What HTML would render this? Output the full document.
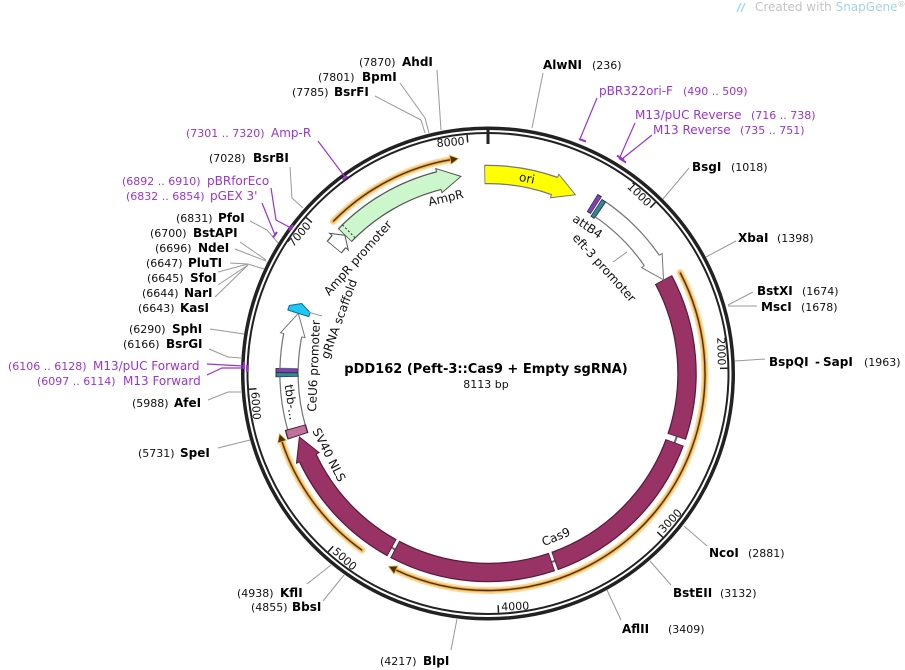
<!DOCTYPE html>
<html><head><meta charset="utf-8">
<style>
html,body{margin:0;padding:0;background:#fff;}
svg{display:block;}
text{font-family:"DejaVu Sans","Liberation Sans",sans-serif;}
.n{font-size:11px;fill:#111;}
.b{font-size:12px;font-weight:bold;fill:#000;}
.p{font-size:12px;fill:#9a34d0;}
.pn{font-size:11px;fill:#9a34d0;}
.t{font-size:11px;fill:#111;}
.f{font-size:12px;fill:#111;}
.ll{stroke:#999;stroke-width:1;fill:none;}
.pl{stroke:#9a34d0;stroke-width:1.2;fill:none;}
.pm{stroke:#9a34d0;stroke-width:2;fill:none;}
</style></head><body>
<svg width="905" height="670" viewBox="0 0 905 670" xmlns="http://www.w3.org/2000/svg">
<defs>
<path id="hd" d="M464.45 166.84 L464.06 163.36 L488 174.5 L466.89 188.2 L466.49 184.72"/>
<path id="hs" d="M478.93 165.7 L478.77 162.2 L488 174.5 L479.86 187.18 L479.71 183.68"/>
<path id="ho" d="M479.5 152.16 L488 156.5 L479.84 161.16 Z"/>
</defs>
<rect width="905" height="670" fill="#fff"/>

<!-- header -->
<g stroke="#a8d8ea" stroke-width="1.5" fill="none">
<line x1="737" y1="12" x2="741" y2="3"/><line x1="741" y1="12" x2="745" y2="3"/>
</g>
<text x="755" y="11" style="font-size:12px;fill:#c4c4c4">Created with <tspan fill="#a6d3e3">SnapGene</tspan><tspan style="font-size:8px" dy="-4">®</tspan></text>

<!-- backbone -->
<circle cx="488" cy="373.5" r="245.25" fill="none" stroke="#222" stroke-width="3.5"/>
<circle cx="488" cy="373.5" r="240.5" fill="none" stroke="#222" stroke-width="2"/>

<!-- ticks -->
<g stroke="#222" stroke-width="1.5">
<line x1="488" y1="134" x2="488" y2="141.5" transform="rotate(44.373 488 373.5)"/>
<line x1="488" y1="134" x2="488" y2="141.5" transform="rotate(88.746 488 373.5)"/>
<line x1="488" y1="134" x2="488" y2="141.5" transform="rotate(133.119 488 373.5)"/>
<line x1="488" y1="134" x2="488" y2="141.5" transform="rotate(177.492 488 373.5)"/>
<line x1="488" y1="134" x2="488" y2="141.5" transform="rotate(221.865 488 373.5)"/>
<line x1="488" y1="134" x2="488" y2="141.5" transform="rotate(266.238 488 373.5)"/>
<line x1="488" y1="134" x2="488" y2="141.5" transform="rotate(310.611 488 373.5)"/>
<line x1="488" y1="134" x2="488" y2="141.5" transform="rotate(354.984 488 373.5)"/>
</g>
<line x1="488" y1="126.5" x2="488" y2="144" stroke="#222" stroke-width="3"/>

<text class="t" x="485" y="143.5" text-anchor="end" transform="rotate(44.373 488 373.5)">1000</text>
<text class="t" x="485" y="143.5" text-anchor="end" transform="rotate(88.746 488 373.5)">2000</text>
<text class="t" x="485" y="143.5" text-anchor="end" transform="rotate(310.611 488 373.5)">7000</text>
<text class="t" x="485" y="143.5" text-anchor="end" transform="rotate(354.984 488 373.5)">8000</text>
<text class="t" x="491" y="611" transform="rotate(-46.881 488 373.5)">3000</text>
<text class="t" x="491" y="611" transform="rotate(-2.508 488 373.5)">4000</text>
<text class="t" x="491" y="611" transform="rotate(41.865 488 373.5)">5000</text>
<text class="t" x="491" y="611" transform="rotate(86.238 488 373.5)">6000</text>

<!-- ORF glows -->
<g fill="none" stroke-linecap="round">
<circle cx="488" cy="373.5" r="217" pathLength="360" stroke="#fbd89a" stroke-width="7" stroke-dasharray="35.8 720" transform="rotate(224.5 488 373.5)"/>
<circle cx="488" cy="373.5" r="217" pathLength="360" stroke="#fbd89a" stroke-width="7" stroke-dasharray="143 720" transform="rotate(-27.7 488 373.5)"/>
<circle cx="488" cy="373.5" r="217" pathLength="360" stroke="#fbd89a" stroke-width="7" stroke-dasharray="36.4 720" transform="rotate(125.5 488 373.5)"/>
<circle cx="488" cy="373.5" r="217" pathLength="360" stroke="#f0b04a" stroke-width="3.5" stroke-dasharray="35.8 720" transform="rotate(224.5 488 373.5)"/>
<circle cx="488" cy="373.5" r="217" pathLength="360" stroke="#f0b04a" stroke-width="3.5" stroke-dasharray="143 720" transform="rotate(-27.7 488 373.5)"/>
<circle cx="488" cy="373.5" r="217" pathLength="360" stroke="#f0b04a" stroke-width="3.5" stroke-dasharray="36.4 720" transform="rotate(125.5 488 373.5)"/>
</g>
<g fill="none">
<circle cx="488" cy="373.5" r="217" pathLength="360" stroke="#4a3208" stroke-width="1.4" stroke-dasharray="35.8 720" transform="rotate(224.5 488 373.5)"/>
<circle cx="488" cy="373.5" r="217" pathLength="360" stroke="#4a3208" stroke-width="1.4" stroke-dasharray="143 720" transform="rotate(-27.7 488 373.5)"/>
<circle cx="488" cy="373.5" r="217" pathLength="360" stroke="#4a3208" stroke-width="1.4" stroke-dasharray="36.4 720" transform="rotate(125.5 488 373.5)"/>
</g>
<use href="#ho" fill="#4a3208" stroke="#f0b04a" stroke-width="0.8" transform="rotate(352.2 488 373.5)"/>
<use href="#ho" fill="#4a3208" stroke="#f0b04a" stroke-width="0.8" transform="rotate(207.3 488 373.5)"/>
<use href="#ho" fill="#4a3208" stroke="#f0b04a" stroke-width="0.8" transform="rotate(253.9 488 373.5)"/>

<!-- gap connectors -->
<g fill="none" stroke="#666" stroke-width="2">
<circle cx="488" cy="373.5" r="199" pathLength="360" stroke-dasharray="2.2 720" transform="rotate(18.3 488 373.5)"/>
<circle cx="488" cy="373.5" r="199" pathLength="360" stroke-dasharray="1.3 720" transform="rotate(70.2 488 373.5)"/>
<circle cx="488" cy="373.5" r="199" pathLength="360" stroke-dasharray="1.4 720" transform="rotate(117.7 488 373.5)"/>
</g>

<!-- features: outlines then fills -->
<g fill="none">
<!-- ori -->
<circle cx="488" cy="373.5" r="199" pathLength="360" stroke="#777" stroke-width="19.5" stroke-dasharray="20.7 720" transform="rotate(268.95 488 373.5)"/>
<circle cx="488" cy="373.5" r="199" pathLength="360" stroke="#ffff00" stroke-width="17" stroke-dasharray="20.45 720" transform="rotate(269.2 488 373.5)"/>
<!-- AmpR -->
<circle cx="488" cy="373.5" r="199" pathLength="360" stroke="#555" stroke-width="19.5" stroke-dasharray="31.85 720" transform="rotate(223.95 488 373.5)"/>
<circle cx="488" cy="373.5" r="199" pathLength="360" stroke="#ccf7cc" stroke-width="17" stroke-dasharray="31.6 720" transform="rotate(224.2 488 373.5)"/>
<!-- AmpR promoter -->
<circle cx="488" cy="373.5" r="199" pathLength="360" stroke="#555" stroke-width="19.5" stroke-dasharray="2.4 720" transform="rotate(219.35 488 373.5)"/>
<circle cx="488" cy="373.5" r="199" pathLength="360" stroke="#fff" stroke-width="17" stroke-dasharray="2.05 720" transform="rotate(219.6 488 373.5)"/>
<!-- eft-3 promoter -->
<circle cx="488" cy="373.5" r="199" pathLength="360" stroke="#777" stroke-width="19.5" stroke-dasharray="21.2 720" transform="rotate(-55.65 488 373.5)"/>
<circle cx="488" cy="373.5" r="199" pathLength="360" stroke="#fff" stroke-width="17" stroke-dasharray="21 720" transform="rotate(-55.4 488 373.5)"/>
<!-- attB4 bars -->
<circle cx="488" cy="373.5" r="200" pathLength="360" stroke="#333" stroke-width="21" stroke-dasharray="1.4 720" transform="rotate(-58.6 488 373.5)"/>
<circle cx="488" cy="373.5" r="200" pathLength="360" stroke="#7f3fbf" stroke-width="19" stroke-dasharray="1.0 720" transform="rotate(-58.4 488 373.5)"/>
<circle cx="488" cy="373.5" r="198" pathLength="360" stroke="#333" stroke-width="21" stroke-dasharray="1.4 720" transform="rotate(-56.9 488 373.5)"/>
<circle cx="488" cy="373.5" r="198" pathLength="360" stroke="#2f8a96" stroke-width="19" stroke-dasharray="1.0 720" transform="rotate(-56.7 488 373.5)"/>
<!-- Cas9 segments -->
<circle cx="488" cy="373.5" r="199" pathLength="360" stroke="#5a1a3a" stroke-width="19.5" stroke-dasharray="46.7 720" transform="rotate(-28.15 488 373.5)"/>
<circle cx="488" cy="373.5" r="199" pathLength="360" stroke="#993366" stroke-width="17" stroke-dasharray="46.2 720" transform="rotate(-27.9 488 373.5)"/>
<circle cx="488" cy="373.5" r="199" pathLength="360" stroke="#5a1a3a" stroke-width="19.5" stroke-dasharray="50.2 720" transform="rotate(20.25 488 373.5)"/>
<circle cx="488" cy="373.5" r="199" pathLength="360" stroke="#993366" stroke-width="17" stroke-dasharray="49.7 720" transform="rotate(20.5 488 373.5)"/>
<circle cx="488" cy="373.5" r="199" pathLength="360" stroke="#5a1a3a" stroke-width="19.5" stroke-dasharray="46.7 720" transform="rotate(71.25 488 373.5)"/>
<circle cx="488" cy="373.5" r="199" pathLength="360" stroke="#993366" stroke-width="17" stroke-dasharray="46.2 720" transform="rotate(71.5 488 373.5)"/>
<circle cx="488" cy="373.5" r="199" pathLength="360" stroke="#5a1a3a" stroke-width="19.5" stroke-dasharray="36.2 720" transform="rotate(118.85 488 373.5)"/>
<circle cx="488" cy="373.5" r="199" pathLength="360" stroke="#993366" stroke-width="17" stroke-dasharray="35.95 720" transform="rotate(119.1 488 373.5)"/>
<!-- tbb box -->
<circle cx="488" cy="373.5" r="199" pathLength="360" stroke="#777" stroke-width="19.5" stroke-dasharray="15.4 720" transform="rotate(164.0 488 373.5)"/>
<circle cx="488" cy="373.5" r="199" pathLength="360" stroke="#fff" stroke-width="17" stroke-dasharray="15 720" transform="rotate(164.2 488 373.5)"/>
<!-- SV40 NLS pink -->
<circle cx="488" cy="373.5" r="200" pathLength="360" stroke="#3a2030" stroke-width="22" stroke-dasharray="2.7 720" transform="rotate(161.75 488 373.5)"/>
<circle cx="488" cy="373.5" r="200" pathLength="360" stroke="#c0709a" stroke-width="19.5" stroke-dasharray="2.2 720" transform="rotate(162 488 373.5)"/>
<!-- teal/purple bars left -->
<circle cx="488" cy="373.5" r="201" pathLength="360" stroke="#333" stroke-width="23" stroke-dasharray="1.3 720" transform="rotate(179.0 488 373.5)"/>
<circle cx="488" cy="373.5" r="201" pathLength="360" stroke="#2f8a96" stroke-width="21" stroke-dasharray="0.9 720" transform="rotate(179.2 488 373.5)"/>
<circle cx="488" cy="373.5" r="201" pathLength="360" stroke="#333" stroke-width="23" stroke-dasharray="1.3 720" transform="rotate(180.2 488 373.5)"/>
<circle cx="488" cy="373.5" r="201" pathLength="360" stroke="#7f3fbf" stroke-width="21" stroke-dasharray="0.9 720" transform="rotate(180.4 488 373.5)"/>
<!-- CeU6 promoter -->
<circle cx="488" cy="373.5" r="199" pathLength="360" stroke="#777" stroke-width="19.5" stroke-dasharray="9.9 720" transform="rotate(181.35 488 373.5)"/>
<circle cx="488" cy="373.5" r="199" pathLength="360" stroke="#fff" stroke-width="17" stroke-dasharray="9.65 720" transform="rotate(181.6 488 373.5)"/>
</g>

<!-- heads -->
<use href="#hd" fill="#ffff00" stroke="#777" stroke-width="1" transform="rotate(26.05 488 373.5)"/>
<use href="#hd" fill="#ccf7cc" stroke="#555" stroke-width="1" transform="rotate(352.2 488 373.5)"/>
<use href="#hs" fill="#fff" stroke="#555" stroke-width="1" transform="rotate(314.0 488 373.5)"/>
<use href="#hd" fill="#fff" stroke="#777" stroke-width="1" transform="rotate(61.9 488 373.5)"/>
<use href="#hd" fill="#993366" stroke="#5a1a3a" stroke-width="1" transform="rotate(251.4 488 373.5)"/>
<use href="#hd" fill="#fff" stroke="#777" stroke-width="1" transform="rotate(287.6 488 373.5)"/>
<!-- gRNA scaffold -->
<path d="M488 174.5 L481.77 163.59 L477.01 163.79 L478.16 185.76 L482.42 185.58 Z" fill="#1ec8f5" stroke="#0a6f9a" stroke-width="1" transform="rotate(290.6 488 373.5)"/>
<!-- AmpR dotted line -->
<line x1="488" y1="183.5" x2="488" y2="165.5" stroke="#333" stroke-width="1" stroke-dasharray="2 2" transform="rotate(315.6 488 373.5)"/>

<!-- inner labels -->
<text class="f" x="488" y="178.5" text-anchor="middle" transform="rotate(11.3 488 373.5)">ori</text>
<text class="f" x="488" y="197" text-anchor="middle" transform="rotate(-13.5 488 373.5)">AmpR</text>
<text class="f" x="488" y="203.5" text-anchor="middle" transform="rotate(-48.4 488 373.5)">AmpR promoter</text>
<text class="f" x="488" y="200" text-anchor="middle" transform="rotate(34.1 488 373.5)">attB4</text>
<text class="f" x="488" y="220.5" text-anchor="middle" transform="rotate(47.7 488 373.5)">eft-3 promoter</text>
<text class="f" x="488" y="554.5" text-anchor="middle" transform="rotate(-22.6 488 373.5)">Cas9</text>
<text class="f" x="488" y="556.2" text-anchor="middle" transform="rotate(62.9 488 373.5)">SV40 NLS</text>
<text class="f" x="488" y="218.9" text-anchor="middle" transform="rotate(-69.9 488 373.5)">gRNA scaffold</text>
<text class="f" x="488" y="203.3" text-anchor="middle" transform="rotate(-87.5 488 373.5)">CeU6 promoter</text>
<text class="f" x="488" y="576.5" text-anchor="middle" transform="rotate(81.7 488 373.5)">tbb-...</text>
<line x1="613" y1="262" x2="627" y2="252" class="ll"/>
<line x1="308" y1="312" x2="322" y2="316" class="ll"/>

<!-- title -->
<text x="486" y="373" text-anchor="middle" style="font-size:13px;font-weight:bold;fill:#000">pDD162 (Peft-3::Cas9 + Empty sgRNA)</text>
<text x="486" y="388" text-anchor="middle" style="font-size:11px;fill:#111">8113 bp</text>

<!-- enzyme leader lines -->
<g class="ll">
<path d="M532 128 L543 73"/>
<path d="M663 199 L689 168"/>
<path d="M706 257 L736 241"/>
<path d="M728 305 L753 292"/>
<path d="M728 306 L757 306"/>
<path d="M735 361 L765 359"/>
<path d="M684 526 L707 546"/>
<path d="M650 561 L671 585"/>
<path d="M607 590 L621 620"/>
<path d="M457 619 L451 650"/>
<path d="M331 565 L307 584"/>
<path d="M344 575 L323 601"/>
<path d="M250 440 L218 448"/>
<path d="M241 392 L228 392 L208 400"/>
<path d="M241 358 L228 357 L209 349"/>
<path d="M244 334 L210 329"/>
<path d="M264 269 L248 264 L230 263"/>
<path d="M248 264 L218 272"/>
<path d="M248 265 L218 285"/>
<path d="M248 265 L215 297"/>
<path d="M266 261 L235 249"/>
<path d="M266 260 L240 242"/>
<path d="M278 243 L267 230 L250 221"/>
<path d="M303 208 L292 198 L290 167"/>
<path d="M425 133 L421 120 L375 96"/>
<path d="M429 133 L425 118 L400 83"/>
<path d="M441 130 L437 70"/>
</g>

<!-- primer leaders and marks -->
<g class="pl">
<path d="M318 141 L345 177"/>
<path d="M597 98 L580 139"/>
<path d="M635 123 L620 157"/>
<path d="M652 135 L622 159"/>
<path d="M271 188 L276 220 L291 228"/>
<path d="M262 203 L275 235"/>
<path d="M207 364 L243 366"/>
<path d="M207 375 L222 368 L245 368"/>
</g>
<g class="pm">
<path d="M342.6 179.8 L347.4 176.2"/>
<path d="M579 139 L586 141.5"/>
<path d="M617 155.5 L624 160"/>
<path d="M619 158 L626 162.5"/>
<path d="M289 230.5 L293 225"/>
<path d="M273 237.5 L277 232"/>
<path d="M244 362 L244 369"/>
<path d="M247 365 L247 372"/>
</g>

<!-- right labels -->
<text class="b" x="543" y="69">AlwNI</text><text class="n" x="592" y="69">(236)</text>
<text class="p" x="599" y="95">pBR322ori-F</text><text class="pn" x="683" y="95">(490 .. 509)</text>
<text class="p" x="635" y="119">M13/pUC Reverse</text><text class="pn" x="751" y="119">(716 .. 738)</text>
<text class="p" x="653" y="134">M13 Reverse</text><text class="pn" x="740" y="134">(735 .. 751)</text>
<text class="b" x="692" y="171">BsgI</text><text class="n" x="731" y="171">(1018)</text>
<text class="b" x="738" y="242">XbaI</text><text class="n" x="777" y="242">(1398)</text>
<text class="b" x="757" y="295">BstXI</text><text class="n" x="802" y="295">(1674)</text>
<text class="b" x="761" y="311">MscI</text><text class="n" x="801" y="311">(1678)</text>
<text class="b" x="769" y="366">BspQI</text><text class="b" x="815" y="366">-</text><text class="b" x="823" y="366">SapI</text><text class="n" x="864" y="366">(1963)</text>
<text class="b" x="709" y="557">NcoI</text><text class="n" x="748" y="557">(2881)</text>
<text class="b" x="673" y="597">BstEII</text><text class="n" x="720" y="597">(3132)</text>
<text class="b" x="622" y="633">AflII</text><text class="n" x="668" y="633">(3409)</text>

<!-- left labels -->
<text class="n" x="380" y="665">(4217)</text><text class="b" x="423" y="665">BlpI</text>
<text class="n" x="359" y="66">(7870)</text><text class="b" x="402" y="66">AhdI</text>
<text class="n" x="318" y="81">(7801)</text><text class="b" x="362" y="81">BpmI</text>
<text class="n" x="292" y="96">(7785)</text><text class="b" x="334" y="96">BsrFI</text>
<text class="pn" x="186" y="137">(7301 .. 7320)</text><text class="p" x="271" y="137">Amp-R</text>
<text class="n" x="209" y="162">(7028)</text><text class="b" x="253" y="162">BsrBI</text>
<text class="pn" x="122" y="185">(6892 .. 6910)</text><text class="p" x="207" y="185">pBRforEco</text>
<text class="pn" x="126" y="200">(6832 .. 6854)</text><text class="p" x="210" y="200">pGEX 3'</text>
<text class="n" x="176" y="222">(6831)</text><text class="b" x="218" y="222">PfoI</text>
<text class="n" x="150" y="237">(6700)</text><text class="b" x="193" y="237">BstAPI</text>
<text class="n" x="155" y="252">(6696)</text><text class="b" x="198" y="252">NdeI</text>
<text class="n" x="146" y="267">(6647)</text><text class="b" x="188" y="267">PluTI</text>
<text class="n" x="147" y="282">(6645)</text><text class="b" x="190" y="282">SfoI</text>
<text class="n" x="142" y="297">(6644)</text><text class="b" x="184" y="297">NarI</text>
<text class="n" x="138" y="312">(6643)</text><text class="b" x="180" y="312">KasI</text>
<text class="n" x="129" y="333">(6290)</text><text class="b" x="172" y="333">SphI</text>
<text class="n" x="123" y="348">(6166)</text><text class="b" x="166" y="348">BsrGI</text>
<text class="pn" x="8" y="370">(6106 .. 6128)</text><text class="p" x="93" y="370">M13/pUC Forward</text>
<text class="pn" x="37" y="385">(6097 .. 6114)</text><text class="p" x="123" y="385">M13 Forward</text>
<text class="n" x="132" y="407">(5988)</text><text class="b" x="174" y="407">AfeI</text>
<text class="n" x="138" y="457">(5731)</text><text class="b" x="180" y="457">SpeI</text>
<text class="n" x="237" y="597">(4938)</text><text class="b" x="280" y="597">KflI</text>
<text class="n" x="251" y="611">(4855)</text><text class="b" x="292" y="611">BbsI</text>
</svg>
</body></html>
